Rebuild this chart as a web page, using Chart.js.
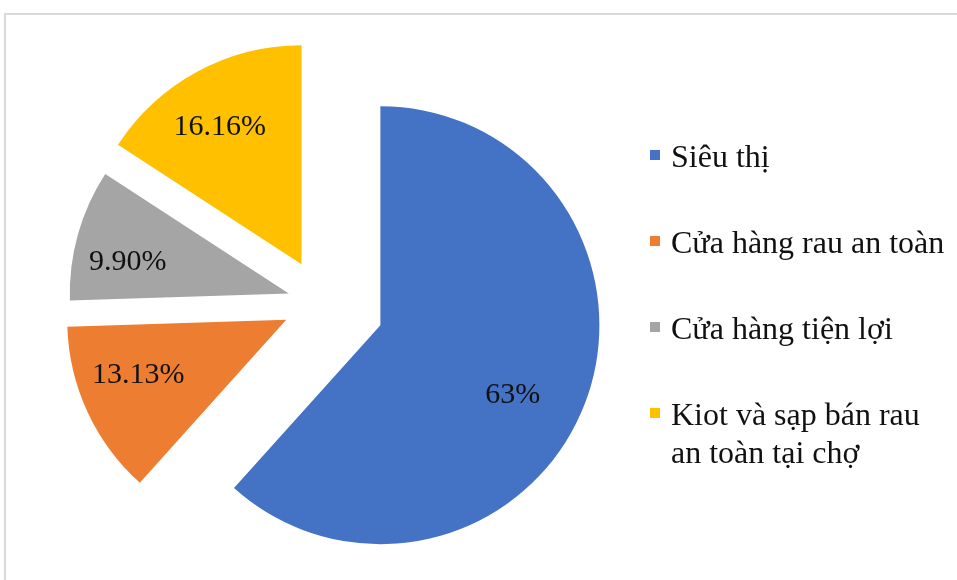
<!DOCTYPE html>
<html lang="vi">
<head>
<meta charset="utf-8">
<title>Kênh mua rau an toàn</title>
<script src="https://cdn.jsdelivr.net/npm/chart.js@4.4.1/dist/chart.umd.min.js"></script>
<style>
  html, body { margin: 0; padding: 0; background: #fff; }
  #wrap { position: relative; width: 957px; height: 580px; overflow: hidden;
          font-family: "Liberation Serif", "Times New Roman", serif; }
  #frame { position: absolute; left: 4px; top: 13px; width: 1000px; height: 700px;
           border-top: 2px solid #d9d9d9; border-left: 2px solid #d9d9d9; }
  #pie { position: absolute; left: 0; top: 0; }
  #legend { position: absolute; left: 0; top: 0; }
  .item { position: absolute; left: 650px; font-size: 32px; line-height: 38px;
          color: #111; white-space: nowrap; }
  .item .sw { position: absolute; left: 0; top: 13px; width: 10px; height: 10px; }
  .item .tx { position: absolute; left: 21px; top: 0; }
</style>
</head>
<body>
<div id="wrap">
  <div id="frame"></div>
  <canvas id="pie" width="957" height="580"></canvas>
  <div id="legend"></div>
</div>
<script>
// Shares of purchase channels (%)
const categories = ['Siêu thị', 'Cửa hàng rau an toàn', 'Cửa hàng tiện lợi',
                    ['Kiot và sạp bán rau', 'an toàn tại chợ']];
const shares = [63, 13.13, 9.90, 16.16];
const shareDecimals = [0, 2, 2, 2];

// Styling
const sliceColors = ['#4472C4', '#ED7D31', '#A5A5A5', '#FFC000'];
const explodeDistance = [62, 40, 35, 44];        // px each slice is pulled out
const labelAngleFrac = [0.527, 0.614, 0.389, 0.465];   // position along the slice's sweep
const labelRadiusFrac = [0.678, 0.718, 0.751, 0.736];  // position from slice tip to rim

// Pull each slice outwards along its bisector
const explodePlugin = {
  id: 'explode',
  afterDatasetsUpdate(chart) {
    chart.getDatasetMeta(0).data.forEach((arc, i) => {
      const mid = (arc.startAngle + arc.endAngle) / 2;
      arc.x += Math.cos(mid) * explodeDistance[i];
      arc.y += Math.sin(mid) * explodeDistance[i];
    });
  }
};

// Percentage text inside each slice
const sliceLabelPlugin = {
  id: 'sliceLabels',
  afterDatasetsDraw(chart) {
    const ctx = chart.ctx;
    const values = chart.data.datasets[0].data;
    ctx.save();
    ctx.font = '30px "Liberation Serif", "Times New Roman", serif';
    ctx.fillStyle = '#111';
    ctx.textAlign = 'center';
    ctx.textBaseline = 'alphabetic';
    chart.getDatasetMeta(0).data.forEach((arc, i) => {
      const a = arc.startAngle + labelAngleFrac[i] * (arc.endAngle - arc.startAngle);
      const r = labelRadiusFrac[i] * arc.outerRadius;
      const x = arc.x + Math.cos(a) * r;
      const y = arc.y + Math.sin(a) * r;
      ctx.fillText(values[i].toFixed(shareDecimals[i]) + '%', x, y + 10);
    });
    ctx.restore();
  }
};

new Chart(document.getElementById('pie'), {
  type: 'pie',
  data: {
    labels: categories,
    datasets: [{ data: shares, backgroundColor: sliceColors, borderWidth: 0 }]
  },
  options: {
    responsive: false,
    animation: false,
    events: [],
    radius: 219,
    layout: { padding: { left: 0, right: 312, top: 26, bottom: 0 } },
    plugins: { legend: { display: false }, tooltip: { enabled: false } }
  },
  plugins: [explodePlugin, sliceLabelPlugin]
});

// Legend on the right
const legend = document.getElementById('legend');
categories.forEach((name, i) => {
  const item = document.createElement('div');
  item.className = 'item';
  item.style.top = (137 + i * 86) + 'px';
  const sw = document.createElement('span');
  sw.className = 'sw';
  sw.style.background = sliceColors[i];
  const tx = document.createElement('span');
  tx.className = 'tx';
  (Array.isArray(name) ? name : [name]).forEach((line, k) => {
    if (k) tx.appendChild(document.createElement('br'));
    tx.appendChild(document.createTextNode(line));
  });
  item.appendChild(sw);
  item.appendChild(tx);
  legend.appendChild(item);
});
</script>
</body>
</html>
